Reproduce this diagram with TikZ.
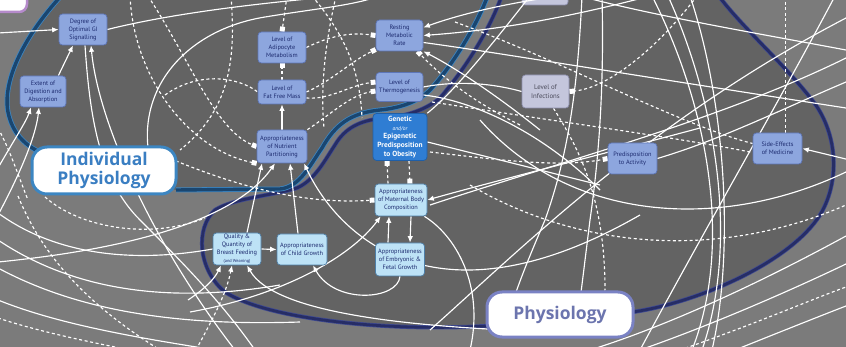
\documentclass[tikz,border=0pt]{standalone}
\usepackage{fontspec}
\setmainfont{PT Sans}
\newfontfamily\labelfont{Open Sans}
\usetikzlibrary{arrows.meta}
\pgfdeclarelayer{back}
\pgfdeclarelayer{wires}
\pgfsetlayers{back,wires,main}
\definecolor{bgout}{HTML}{7B7B7B}
\definecolor{bgin}{HTML}{636363}
\definecolor{midblue}{HTML}{8DA6DE}
\definecolor{midedge}{HTML}{5D76B8}
\definecolor{paleblue}{HTML}{BDE2F6}
\definecolor{paleedge}{HTML}{4E7FA8}
\definecolor{lavgrey}{HTML}{C4C6DC}
\definecolor{lavedge}{HTML}{8E90AE}
\definecolor{genblue}{HTML}{2F7DD3}
\definecolor{genedge}{HTML}{1F5FA8}
\definecolor{navytext}{HTML}{1C2A6E}
\definecolor{greytext}{HTML}{4A4A5A}
\definecolor{indivline}{HTML}{1A4670}
\definecolor{indivedge}{HTML}{3C86C2}
\definecolor{physline}{HTML}{262D66}
\definecolor{physedge}{HTML}{3F4A92}
\definecolor{indivtext}{HTML}{3A7EC2}
\definecolor{physborder}{HTML}{7A82C4}
\definecolor{phystext}{HTML}{6C75AE}
\definecolor{purpleedge}{HTML}{B58ACB}
\tikzset{
  nodebase/.style={rounded corners=3.5pt, line width=0.7pt, align=center, inner sep=1pt,
    font=\fontsize{6.3}{8}\selectfont},
  mid/.style={nodebase, fill=midblue, draw=midedge, text=navytext},
  pale/.style={nodebase, fill=paleblue, draw=paleedge, text=navytext},
  grayish/.style={nodebase, fill=lavgrey, draw=lavedge, text=greytext, font=\fontsize{6.8}{8.6}\selectfont},
  gene/.style={nodebase, fill=genblue, draw=genedge, text=white, font=\bfseries\fontsize{7.4}{8.6}\selectfont},
  biglabel/.style={rounded corners=15pt, fill=white, line width=3pt, align=center,
    font=\labelfont\bfseries\fontsize{17.5}{18.5}\selectfont},
  wl/.style={draw=white, line width=1.15pt},
  ar/.style={wl, -{Latex[length=6.5pt,width=5.5pt]}},
  dl/.style={wl, dash pattern=on 3pt off 2.6pt},
  dsq/.style={dl, -{Square[length=5pt,width=5pt]}},
  dar/.style={dl, -{Latex[length=6.5pt,width=5.5pt]}},
}
\begin{document}
\begin{tikzpicture}[x=1pt,y=-1pt]
\useasboundingbox (0,0) rectangle (846,347);

% ---------------- nodes ----------------
\node[mid, minimum width=48pt, minimum height=31pt] (gi) at (83,29.5) {Degree of\\Optimal GI\\Signalling};
\node[mid, minimum width=46pt, minimum height=31pt] (dig) at (43,91.5) {Extent of\\Digestion and\\Absorption};
\node[mid, minimum width=48pt, minimum height=31pt] (adip) at (282,47.5) {Level of\\Adipocyte\\Metabolism};
\node[mid, minimum width=48pt, minimum height=24pt] (ffm) at (282,92) {Level of\\Fat Free Mass};
\node[mid, minimum width=47pt, minimum height=31pt] (rmr) at (399.5,35.5) {Resting\\Metabolic\\Rate};
\node[mid, minimum width=47pt, minimum height=29pt] (thermo) at (399.5,87) {Level of\\Thermogenesis};
\node[gene, minimum width=54pt, minimum height=47pt] (gen) at (400,137) {Genetic\\{\mdseries\itshape\fontsize{5.5}{7}\selectfont and/or}\\Epigenetic\\Predisposition\\to Obesity};
\node[mid, minimum width=50pt, minimum height=33pt] (nutr) at (282,146.5) {Appropriateness\\of Nutrient\\Partitioning};
\node[pale, minimum width=52pt, minimum height=32pt] (mat) at (401,200) {Appropriateness\\of Maternal Body\\Composition};
\node[pale, minimum width=49pt, minimum height=33pt] (emb) at (400,259.5) {Appropriateness\\of Embryonic \&\\Fetal Growth};
\node[pale, minimum width=48pt, minimum height=32pt] (bf) at (237,249) {Quality \&\\Quantity of\\Breast Feeding\\{\fontsize{4.4}{5}\selectfont (and Weaning)}};
\node[pale, minimum width=50pt, minimum height=31pt] (cg) at (302,249.5) {Appropriateness\\of Child Growth};
\node[grayish, minimum width=47pt, minimum height=33pt] (inf) at (545.5,91.5) {Level of\\Infections};
\node[mid, minimum width=49pt, minimum height=31pt] (act) at (632.5,158.5) {Predisposition\\to Activity};
\node[mid, minimum width=49pt, minimum height=31pt] (side) at (777.5,148.5) {Side-Effects\\of Medicine};
\node[biglabel, draw=indivedge, text=indivtext, minimum width=144pt, minimum height=47pt] (lInd) at (104,170.5) {Individual\\Physiology};
\node[biglabel, draw=physborder, text=phystext, minimum width=146pt, minimum height=45pt] (lPhys) at (560,314.5) {Physiology};

% ---------------- background and regions ----------------
\begin{pgfonlayer}{back}
\begin{scope}
\clip (0,0) rectangle (846,347);
\fill[bgout] (-5,-5) rectangle (851,352);
\fill[bgin] (62,-5) .. controls (25,35) and (2,80) .. (8,112) .. controls (12,132) and (24,145) .. (40,152)
  -- (176,190) -- (280,189) .. controls (300,187) and (310,165) .. (322,148)
  .. controls (335,125) and (350,113) .. (380,110) .. controls (400,108) and (418,102) .. (430,90)
  .. controls (450,68) and (475,30) .. (488,-5) -- cycle;
\fill[bgin] (502,-5) .. controls (488,35) and (460,75) .. (440,98) .. controls (428,108) and (410,116) .. (385,118)
  .. controls (360,120) and (345,128) .. (335,145) .. controls (325,160) and (315,180) .. (297,188)
  .. controls (270,196) and (235,198) .. (215,210) .. controls (195,228) and (198,270) .. (225,292)
  .. controls (265,318) and (380,332) .. (487,326) -- (633,312)
  .. controls (700,302) and (790,262) .. (820,215) .. controls (842,178) and (836,130) .. (812,100)
  .. controls (785,65) and (740,25) .. (718,-5) -- cycle;
% physiology boundary
\foreach \w/\c in {4.2pt/physedge, 2.8pt/physline}{
\draw[line width=\w, draw=\c] (502,-5) .. controls (488,35) and (460,75) .. (440,98) .. controls (428,108) and (410,116) .. (385,118)
  .. controls (360,120) and (345,128) .. (335,145) .. controls (325,160) and (315,180) .. (297,188)
  .. controls (270,196) and (235,198) .. (215,210) .. controls (195,228) and (198,270) .. (225,292)
  .. controls (265,318) and (380,332) .. (487,326);
\draw[line width=\w, draw=\c] (633,312)
  .. controls (700,302) and (790,262) .. (820,215) .. controls (842,178) and (836,130) .. (812,100)
  .. controls (785,65) and (740,25) .. (718,-5);
}
% individual physiology boundary
\foreach \w/\c in {5pt/indivedge, 3.4pt/indivline}{
\draw[line width=\w, draw=\c] (62,-5) .. controls (25,35) and (2,80) .. (8,112) .. controls (12,132) and (24,145) .. (40,152);
\draw[line width=\w, draw=\c] (176,190) -- (280,189) .. controls (300,187) and (310,165) .. (322,148)
  .. controls (335,125) and (350,113) .. (380,110) .. controls (400,108) and (418,102) .. (430,90)
  .. controls (450,68) and (475,30) .. (488,-5);
}
% partial shapes at the top edge
\draw[fill=white, draw=purpleedge, line width=2.5pt, rounded corners=8pt] (-30,-30) rectangle (27,12);
\draw[fill=lavgrey, draw=lavedge, line width=0.7pt, rounded corners=3pt] (522,-10) rectangle (568,5);
\end{scope}
\end{pgfonlayer}

% ---------------- connectors ----------------
\begin{pgfonlayer}{wires}
\begin{scope}
\clip (0,0) rectangle (846,347);
\coordinate (eL1) at (-2,33);
\coordinate (eR1) at (850,160);
% upper left
\draw[ar] (eL1) -- (gi.west);
\draw[wl] (gi.east) .. controls (170,14) and (250,4) .. (340,-4);
\draw[ar] (235,350) .. controls (150,240) and (98,120) .. ([xshift=8pt]gi.south);
\draw[wl] ([xshift=2pt]gi.south) .. controls (90,120) and (100,180) .. (140,220) .. controls (180,260) and (220,300) .. (255,350);
\draw[ar] ([xshift=-8pt]dig.north east) -- ([xshift=-10pt]gi.south);
\draw[ar] (-2,168) .. controls (14,140) and (26,122) .. ([xshift=-12pt]dig.south);
\draw[ar] (-2,215) .. controls (22,170) and (36,135) .. ([xshift=-4pt]dig.south);
\draw[wl] (150,160) .. controls (135,90) and (185,30) .. (265,17) .. controls (320,8) and (350,6) .. (380,-4);
\draw[dsq] (130,-4) .. controls (134,80) and (190,150) .. (nutr.south west);
\draw[dsq] (148,-4) .. controls (190,60) and (215,130) .. (nutr.west);
\draw[dl] (231,-4) .. controls (236,60) and (230,110) .. (180,150);
\draw[dsq] (150,150) .. controls (230,185) and (300,205) .. (mat.west);
\draw[dl] (165,95) .. controls (200,70) and (240,78) .. (ffm.west);
\draw[dl] (-2,128) .. controls (10,150) and (18,175) .. (28,200);
% adipocyte / fat free mass / RMR / thermogenesis
\draw[dsq] (287,-4) -- (adip.north);
\draw[dsq] (ffm.north) -- (adip.south);
\draw[dsq] (adip.east) .. controls (330,36) and (350,32) .. (rmr.west);
\draw[dsq] (ffm.east) .. controls (330,82) and (350,62) .. ([yshift=-14pt]rmr.west);
\draw[dsq] ([yshift=-6pt]ffm.east) .. controls (330,100) and (350,85) .. ([yshift=5pt]thermo.west);
\draw[dsq] (nutr.north east) .. controls (330,115) and (350,95) .. ([yshift=-4pt]thermo.west);
\draw[ar] (nutr.north) -- (ffm.south);
\draw[dl] (336,-4) .. controls (326,40) and (320,85) .. (324,128);
\draw[dl] (312,-4) .. controls (345,35) and (360,70) .. (362,118);
\draw[ar] (560,-4) .. controls (500,4) and (455,16) .. ([yshift=8pt]rmr.east);
\draw[ar] (650,-4) .. controls (540,25) and (470,32) .. (rmr.east);
\draw[ar] (540,130) .. controls (490,90) and (450,65) .. (rmr.south east);
\draw[wl] ([yshift=-7pt]rmr.east) .. controls (480,50) and (600,70) .. (846,108);
\draw[dsq] (520,125) .. controls (470,100) and (440,75) .. ([xshift=18pt]rmr.south);
\draw[wl] (thermo.east) .. controls (460,80) and (495,84) .. (inf.west);
\draw[wl] ([yshift=-8pt]thermo.east) .. controls (470,100) and (540,130) .. (600,190);
% infections, activity, side effects
\draw[dsq] (697,-4) .. controls (660,45) and (610,88) .. (inf.east);
\draw[dl] ([xshift=8pt]inf.south) .. controls (580,150) and (605,200) .. ([xshift=45pt]lPhys.north);
\draw[dsq] (430,152) .. controls (500,160) and (560,168) .. (act.west);
\draw[wl] (act.east) .. controls (720,140) and (780,110) .. (846,82);
\draw[ar] (eR1) -- (side.east);
\draw[dl] (785.5,-4) -- ([xshift=8pt]side.north);
\draw[dl] (455,22) .. controls (560,60) and (680,125) .. ([yshift=5pt]side.west);
\draw[dl] (432,102) .. controls (560,122) and (680,138) .. ([yshift=-4pt]side.west);
% genetic / maternal / embryonic
\draw[wl] (gen.north east) .. controls (450,95) and (480,60) .. (530,-4);
\draw[wl] ([yshift=-5pt]gen.east) .. controls (460,150) and (500,160) .. (600,185);
\draw[dsq] ([xshift=-13pt]mat.north) -- ([xshift=-13pt]gen.south);
\draw[dsq] ([xshift=9pt]gen.south) -- ([xshift=9pt]mat.north);
\draw[ar] (700,128) .. controls (580,160) and (480,185) .. (mat.east);
\draw[ar] ([xshift=-12pt]emb.north) -- ([xshift=-12pt]mat.south);
\draw[ar] ([xshift=10pt]mat.south) -- ([xshift=10pt]emb.north);
\draw[ar] (190,312) .. controls (280,296) and (350,258) .. ([xshift=6pt]mat.south west);
\draw[wl] ([xshift=-3pt]mat.south east) .. controls (455,235) and (485,285) .. (470,350);
\draw[ar] (emb.south) .. controls (398,300) and (335,305) .. ([xshift=11pt]cg.south);
% breast feeding / child growth / nutrient partitioning
\draw[ar] (bf.east) -- (cg.west);
\draw[ar] ([xshift=10pt]bf.north) -- ([xshift=-20pt]nutr.south);
\draw[ar] ([xshift=-4pt]cg.north) -- ([xshift=8pt]nutr.south);
\draw[ar] (-2,262) .. controls (100,252) and (230,228) .. ([xshift=-7pt]nutr.south);
\draw[ar] (640,215) .. controls (440,330) and (340,240) .. ([xshift=22pt]nutr.south);
\draw[ar] (188,300) .. controls (203,290) and (214,280) .. ([xshift=-16pt]bf.south);
\draw[dar] (196,350) .. controls (212,320) and (226,295) .. ([xshift=-5pt]bf.south);
\draw[ar] (560,332) .. controls (420,328) and (275,315) .. ([xshift=10pt]bf.south);
\draw[wl] (-2,213) .. controls (60,258) and (140,262) .. (bf.west);
% lower left arcs
\draw[wl] (-2,240) .. controls (80,295) and (180,302) .. (280,285);
\draw[wl] (-2,268) .. controls (80,312) and (180,326) .. (300,322);
\draw[wl] (-2,300) .. controls (60,325) and (140,338) .. (215,350);
\draw[dl] (-2,318) .. controls (40,332) and (90,342) .. (130,350);
\draw[dl] (45,197) .. controls (80,228) and (150,240) .. (205,218);
\draw[dl] (18,196) .. controls (40,250) and (80,300) .. (160,350);
% right-hand sweeping curves
\draw[wl] (652,-4) .. controls (705,100) and (735,240) .. (692,350);
\draw[wl] (668,-4) .. controls (715,100) and (740,240) .. (702,350);
\draw[wl] (690,-4) .. controls (725,100) and (735,250) .. (712,350);
\draw[wl] (580,-4) .. controls (650,15) and (750,32) .. (846,50);
\draw[wl] (430,205) .. controls (560,162) and (720,120) .. (846,58);
\draw[wl] (835,-4) .. controls (780,100) and (710,220) .. (640,350);
\draw[wl] (590,350) .. controls (680,322) and (780,272) .. (846,236);
\draw[wl] (640,350) .. controls (720,322) and (800,286) .. (846,264);
\draw[dl] (680,350) .. controls (750,326) and (810,300) .. (846,287);
\draw[wl] (735,350) .. controls (780,332) and (820,316) .. (846,306);
\draw[dl] (470,185) .. controls (580,250) and (720,260) .. (846,205);
\draw[wl] (480,120) .. controls (570,222) and (720,232) .. (846,172);
\draw[wl] (430,330) .. controls (520,250) and (650,120) .. (846,18);
\draw[wl] (602,-4) .. controls (604,80) and (600,150) .. (590,220) .. controls (585,260) and (582,285) .. (580,300);
\draw[wl] (582,-4) .. controls (578,80) and (570,150) .. (545,220) .. controls (530,255) and (522,275) .. (515,295);
\end{scope}
\end{pgfonlayer}
\end{tikzpicture}
\end{document}
